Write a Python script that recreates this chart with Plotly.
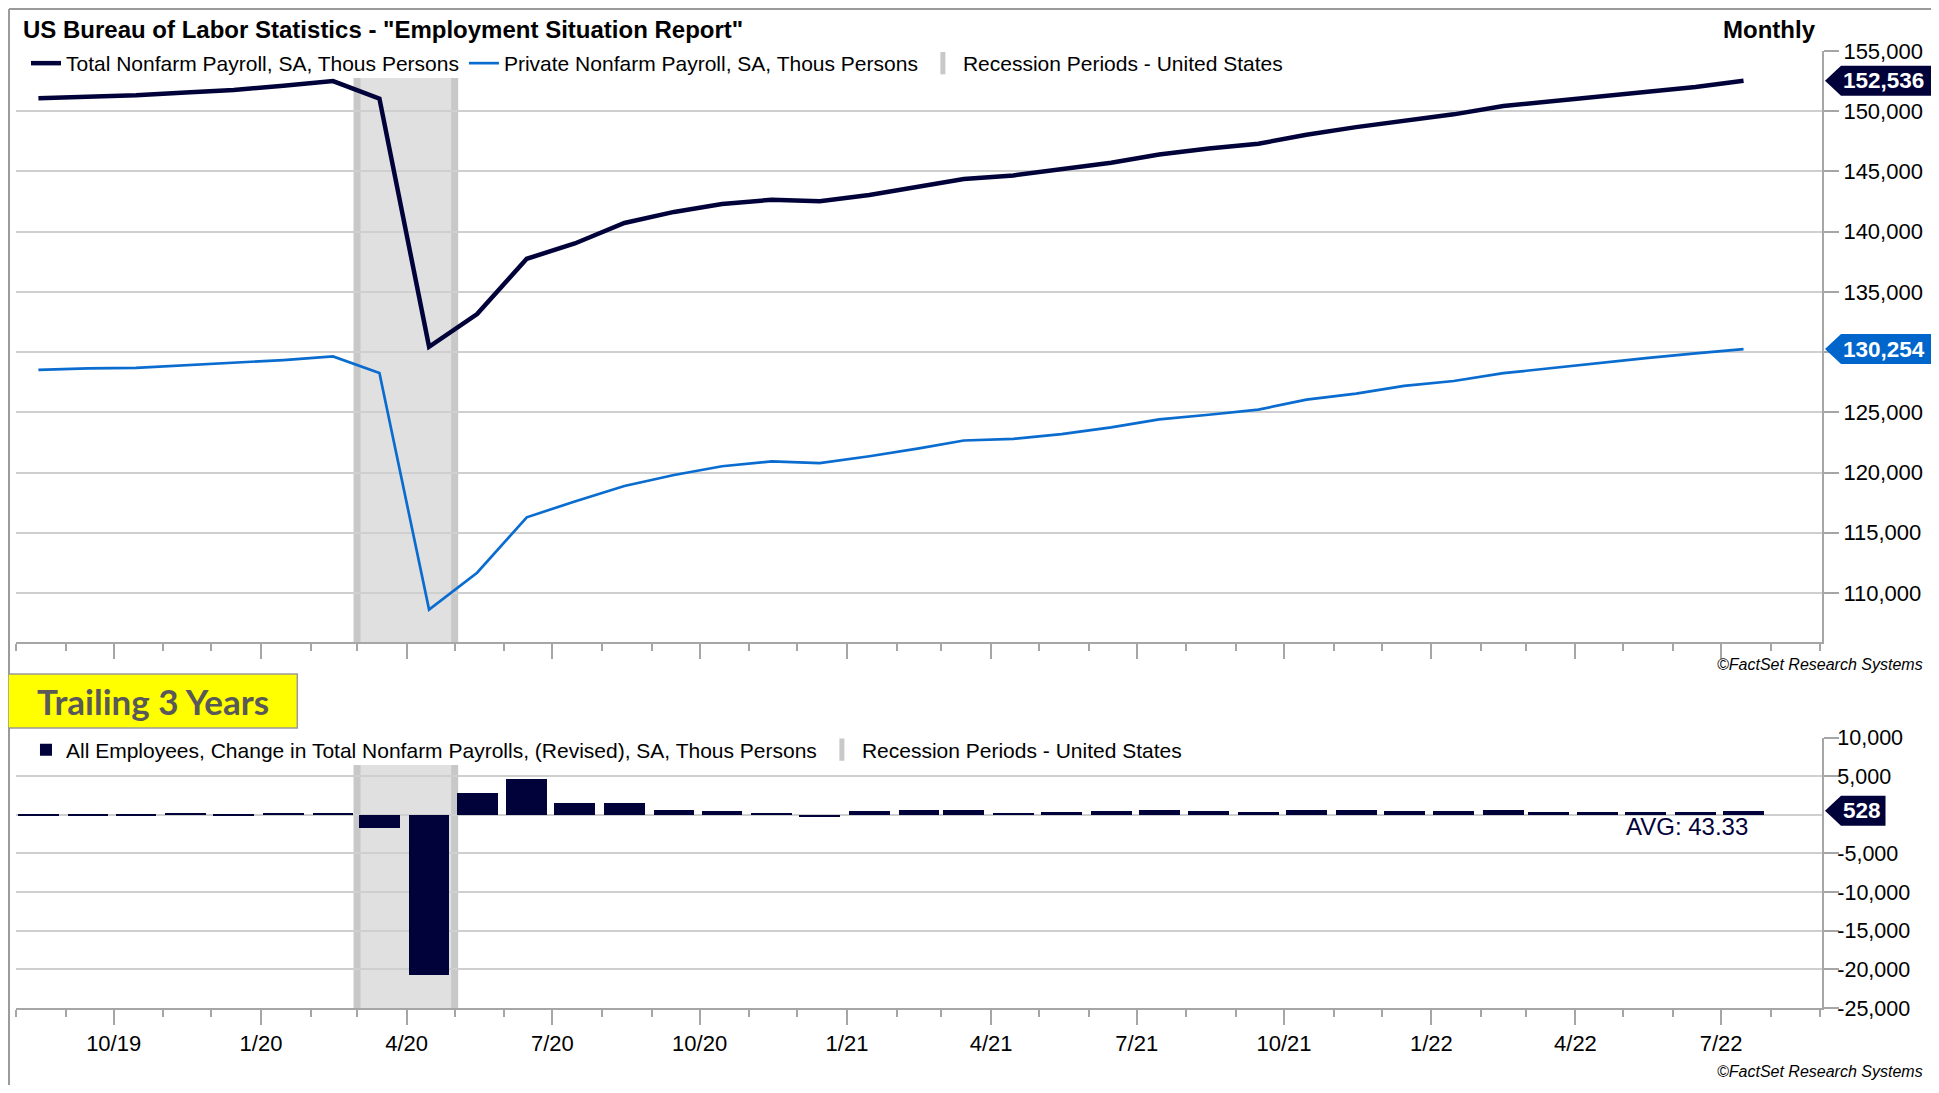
import pandas as pd
import plotly.graph_objects as go

# monthly observations, Aug 2019 - Jul 2022
months = pd.date_range("2019-08-01", periods=36, freq="MS")
obs_dates = months + pd.Timedelta(days=14)

total_nonfarm = [
    151080, 151200, 151320, 151560, 151760, 152120, 152500, 151050,
    130440, 133160, 137750, 139020, 140720, 141640, 142300, 142650,
    142520, 143050, 143750, 144380, 144670, 145160, 145720, 146410,
    146910, 147300, 148050, 148680, 149240, 149740, 150430, 150790,
    151190, 151580, 152008, 152536,
]
private_nonfarm = [
    128520, 128650, 128690, 128910, 129080, 129340, 129640, 128260,
    108620, 111680, 116280, 117600, 118880, 119800, 120520, 120920,
    120790, 121350, 122000, 122660, 122800, 123190, 123750, 124410,
    124800, 125230, 126050, 126550, 127200, 127600, 128250, 128650,
    129080, 129500, 129900, 130254,
]
payroll_change = [
    207, 208, 185, 261, 147, 315, 289, -1600,
    -20700, 2830, 4750, 1650, 1580, 640, 600, 263,
    -268, 520, 710, 704, 269, 451, 557, 689,
    517, 424, 677, 647, 588, 504, 714, 398,
    368, 386, 398, 528,
]
avg_text = "AVG: 43.33"

top_ticks = list(range(110000, 155001, 5000))
bottom_ticks = [-25000, -20000, -15000, -10000, -5000, 5000, 10000]

recession_start = "2020-03-01"
recession_end = "2020-05-01"

NAVY = "#02023a"
BLUE = "#0a6ccf"
GRID = "#cfcfcf"
AXIS = "#a6a6a6"
FONT = "Liberation Sans, Arial, sans-serif"

# the page body keeps an 8px margin, so the figure is 16px smaller than the window
W, H = 1923, 1077
L, R, T, B = 8, 1818.5, 43, 1000


def px(x):
    return (x - L) / (R - L)


def py(y):
    return (B - y) / (B - T)


fig = go.Figure()

fig.add_trace(go.Scatter(
    x=obs_dates, y=total_nonfarm, mode="lines",
    name="Total Nonfarm Payroll, SA, Thous Persons",
    line=dict(color=NAVY, width=4.5), xaxis="x", yaxis="y", legend="legend",
))
fig.add_trace(go.Scatter(
    x=obs_dates, y=private_nonfarm, mode="lines",
    name="Private Nonfarm Payroll, SA, Thous Persons",
    line=dict(color=BLUE, width=2.7), xaxis="x", yaxis="y", legend="legend",
))
fig.add_trace(go.Scatter(
    x=[None], y=[None], mode="markers",
    name="Recession Periods - United States",
    marker=dict(symbol="line-ns", size=16, line=dict(color="#c8c8c8", width=7)),
    xaxis="x", yaxis="y", legend="legend",
))

fig.add_trace(go.Bar(
    x=obs_dates, y=payroll_change,
    name="All Employees, Change in Total Nonfarm Payrolls, (Revised), SA, Thous Persons",
    marker=dict(color=NAVY, line=dict(width=0)),
    width=25.5 * 86400000, xaxis="x2", yaxis="y2", legend="legend2",
))
fig.add_trace(go.Scatter(
    x=[None], y=[None], mode="markers",
    name="Recession Periods - United States",
    marker=dict(symbol="line-ns", size=16, line=dict(color="#c8c8c8", width=7)),
    xaxis="x2", yaxis="y2", legend="legend2",
))

# recession shading in both panels (stops just under the legends)
for xr, lo, hi in (("x", py(634), py(70)), ("x2", 0, py(757))):
    fig.add_shape(type="rect", xref=xr, yref="paper", x0=recession_start, x1=recession_end,
                  y0=lo, y1=hi, fillcolor="#e0e0e0", layer="below", line=dict(width=0))
    for edge in (recession_start, recession_end):
        fig.add_shape(type="line", xref=xr, yref="paper", x0=edge, x1=edge,
                      y0=lo, y1=hi, layer="below", line=dict(color="#c8c8c8", width=7))

xrange = ["2019-08-01", "2022-09-02"]
xcommon = dict(
    type="date", range=xrange, showgrid=False, showline=True, linecolor=AXIS,
    linewidth=2, ticks="outside", ticklen=15, tickwidth=1.5, tickcolor=AXIS,
    dtick="M3", tick0="2019-10-01", tickformat="%-m/%y",
    minor=dict(dtick="M1", tick0="2019-08-01", ticks="outside", ticklen=7,
               tickwidth=1.5, tickcolor=AXIS, showgrid=False),
    tickfont=dict(family=FONT, size=22, color="#000000"),
    zeroline=False, fixedrange=True,
)
ycommon = dict(
    side="right", showline=True, linecolor=AXIS, linewidth=2, showgrid=True,
    gridcolor=GRID, gridwidth=1.5, ticks="outside", ticklen=15, tickwidth=1.5,
    tickcolor=AXIS,
)
legend_font = dict(family=FONT, size=21, color="#000000")

# the 130,000 label sits behind the last-value tag, as in the original
top_text = ["" if v == 130000 else f"{v:,}" for v in top_ticks]

fig.update_layout(
    width=W, height=H,
    margin=dict(l=L, r=W - R, t=T, b=H - B),
    paper_bgcolor="white", plot_bgcolor="rgba(0,0,0,0)",
    font=dict(family=FONT, color="#000000"),
    showlegend=True,
    xaxis=dict(xcommon, anchor="y", showticklabels=False),
    yaxis=dict(ycommon, domain=[py(634), 1], anchor="x", range=[105930, 155000],
               tickvals=top_ticks, ticktext=top_text, ticklabelstandoff=0,
               tickfont=dict(family=FONT, size=22, color="#000000")),
    xaxis2=dict(xcommon, anchor="y2"),
    yaxis2=dict(ycommon, domain=[0, py(729.5)], anchor="x2", range=[-25000, 10000],
                tickvals=bottom_ticks, ticktext=[f"{v:,}" for v in bottom_ticks],
                ticklabelstandoff=-6,
                tickfont=dict(family=FONT, size=21.5, color="#000000"),
                zeroline=True, zerolinecolor=GRID, zerolinewidth=1.5),
    legend=dict(orientation="h", x=px(18), y=py(35), xanchor="left", yanchor="top",
                bgcolor="rgba(0,0,0,0)", font=legend_font,
                traceorder="normal", itemclick=False),
    legend2=dict(orientation="h", x=px(18), y=py(721.5), xanchor="left", yanchor="top",
                 bgcolor="rgba(0,0,0,0)", font=legend_font,
                 traceorder="normal", itemclick=False),
    bargap=0,
)

# outer frame (top and left edges)
fig.add_shape(type="line", xref="paper", yref="paper", x0=px(1), x1=px(W + 20),
              y0=py(1), y1=py(1), line=dict(color="#9a9a9a", width=2))
fig.add_shape(type="line", xref="paper", yref="paper", x0=px(1), x1=px(1),
              y0=py(1), y1=py(H + 20), line=dict(color="#9a9a9a", width=2))

fig.add_annotation(xref="paper", yref="paper", x=px(13), y=py(22), xanchor="left",
                   yanchor="middle", showarrow=False,
                   text='<b>US Bureau of Labor Statistics - "Employment Situation Report"</b>',
                   font=dict(family=FONT, size=24, color="#000000"))
fig.add_annotation(xref="paper", yref="paper", x=px(1814), y=py(22), xanchor="right",
                   yanchor="middle", showarrow=False, text="<b>Monthly</b>",
                   font=dict(family=FONT, size=24, color="#000000"))

# yellow "Trailing 3 Years" box
fig.add_shape(type="rect", xref="paper", yref="paper", x0=px(0), x1=px(290),
              y0=py(720), y1=py(666), fillcolor="#ffff00",
              line=dict(color="#9a9a9a", width=1.5))
fig.add_annotation(xref="paper", yref="paper", x=px(27), y=py(693), xanchor="left",
                   yanchor="middle", showarrow=False, text="<b>Trailing 3 Years</b>",
                   font=dict(family="Lato, Carlito, sans-serif", size=35, color="#595959"))

for yy in (656, 1063):
    fig.add_annotation(xref="paper", yref="paper", x=px(1922), y=py(yy), xanchor="right",
                       yanchor="middle", showarrow=False, text="<i>©FactSet Research Systems</i>",
                       font=dict(family=FONT, size=16, color="#000000"))

fig.add_annotation(xref="paper", yref="paper", x=px(1746), y=py(818), xanchor="right",
                   yanchor="middle", showarrow=False, text=avg_text,
                   font=dict(family=FONT, size=24, color=NAVY))

# last-value tags on the right axis
tags = [
    ("y", total_nonfarm[-1], NAVY, 130),
    ("y", private_nonfarm[-1], "#0066cc", 130),
    ("y2", payroll_change[-1], NAVY, 63.5),
]
for yr, val, col, wpx in tags:
    fig.add_shape(type="path", xref="paper", yref=yr, xsizemode="pixel", ysizemode="pixel",
                  xanchor=1, yanchor=val,
                  path=f"M 3 0 L 19 15 L {wpx} 15 L {wpx} -15 L 19 -15 Z",
                  fillcolor=col, line=dict(width=0), layer="above")
    fig.add_annotation(xref="paper", yref=yr, x=1, y=val, xanchor="left", xshift=19,
                       yanchor="middle", showarrow=False, text=f"<b>{val:,}</b>",
                       font=dict(family=FONT, size=22.5, color="white"))

fig.write_html("out.html")
